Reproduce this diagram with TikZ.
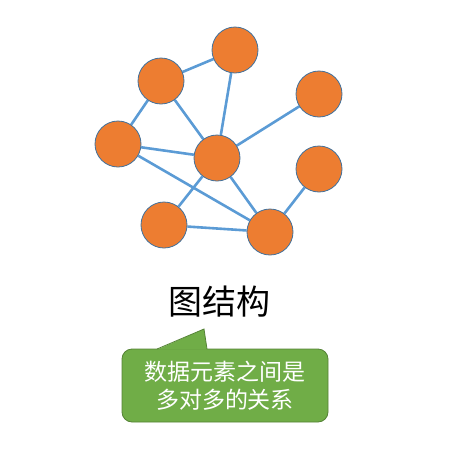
\documentclass[tikz,border=0pt]{standalone}
\usepackage{fontspec}
\newfontfamily\cjk{Noto Sans CJK SC}
\usetikzlibrary{backgrounds}
\definecolor{vorange}{HTML}{ED7D31}
\definecolor{vborder}{HTML}{41719C}
\definecolor{vedge}{HTML}{5B9BD5}
\definecolor{vgreen}{HTML}{70AD47}
\definecolor{vgreenb}{HTML}{548235}
\tikzset{
  vert/.style={circle, fill=vorange, draw=vborder, line width=0.8pt, minimum size=46pt, inner sep=0pt},
  link/.style={draw=vedge, line width=2.6pt},
}
\begin{document}
\begin{tikzpicture}[x=1pt,y=-1pt]
\useasboundingbox (0,0) rectangle (456,456);
\node[vert] (A) at (235,50) {};
\node[vert] (B) at (161,81) {};
\node[vert] (C) at (319,94) {};
\node[vert] (D) at (118,144) {};
\node[vert] (E) at (217,158) {};
\node[vert] (F) at (319,169) {};
\node[vert] (G) at (164,225) {};
\node[vert] (H) at (270,232) {};
\begin{pgfonlayer}{background}
\draw[link] (B) -- (A);
\draw[link] (B) -- (D);
\draw[link] (B) -- (E);
\draw[link] (A) -- (E);
\draw[link] (E) -- (C);
\draw[link] (D) -- (E);
\draw[link] (D) -- (H);
\draw[link] (E) -- (G);
\draw[link] (E) -- (H);
\draw[link] (G) -- (H);
\draw[link] (H) -- (F);
\end{pgfonlayer}
\node[font=\cjk\fontsize{34}{40}\selectfont, inner sep=0pt] (title) at (219,302) {图结构};
\node[fill=vgreen, draw=vgreenb, line width=0.8pt, rounded corners=10pt, minimum width=206pt, minimum height=73pt, inner sep=0pt, align=center, text=white, font=\cjk\fontsize{23}{28}\selectfont] (note) at (225,385.5) {数据元素之间是\\多对多的关系};
\fill[vgreen] (157,349.6) -- (204,329) -- (207,349.6) -- cycle;
\draw[vgreenb, line width=0.8pt] (157,349) -- (204,329) -- (207,349);
\end{tikzpicture}
\end{document}
